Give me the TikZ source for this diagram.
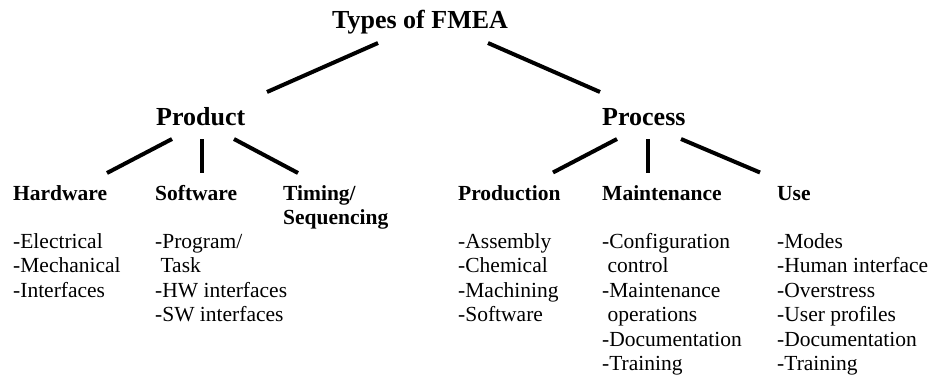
\documentclass[tikz,border=0pt]{standalone}
\usepackage{fontspec}
\setmainfont{Liberation Serif}
\usetikzlibrary{calc}
\begin{document}
\begin{tikzpicture}[x=1pt,y=-1pt,
  big/.style={font=\fontsize{26}{30}\selectfont\bfseries, inner sep=0pt, anchor=base west},
  head/.style={font=\fontsize{21.5}{24.4}\selectfont\bfseries, inner sep=0pt, anchor=base west},
  lst/.style={font=\fontsize{21.5}{24.4}\selectfont, inner sep=0pt, anchor=base west},
  conn/.style={line width=4pt, line cap=butt}]
\useasboundingbox (0,0) rectangle (935,381);
% level 1 and 2
\node[big] (title) at (332,28) {Types of FMEA};
\node[big] (prod) at (156,125) {Product};
\node[big] (proc) at (602,125) {Process};
% level 3 headings
\node[head] (hw) at (13,200.5) {Hardware};
\node[head] (sw) at (155,200.5) {Software};
\node[head] (tim) at (283,200.5) {\begin{tabular}[t]{@{}l@{}}Timing/\\Sequencing\end{tabular}};
\node[head] (pro) at (458,200.5) {Production};
\node[head] (mnt) at (602,200.5) {Maintenance};
\node[head] (use) at (777,200.5) {Use};
% lists
\node[lst] (hwl) at (13,248.5) {\begin{tabular}[t]{@{}l@{}}-Electrical\\-Mechanical\\-Interfaces\end{tabular}};
\node[lst] (swl) at (155,248.5) {\begin{tabular}[t]{@{}l@{}}-Program/\\\ Task\\-HW interfaces\\-SW interfaces\end{tabular}};
\node[lst] (prol) at (458,248.5) {\begin{tabular}[t]{@{}l@{}}-Assembly\\-Chemical\\-Machining\\-Software\end{tabular}};
\node[lst] (mntl) at (602,248.5) {\begin{tabular}[t]{@{}l@{}}-Configuration\\\ control\\-Maintenance\\\ operations\\-Documentation\\-Training\end{tabular}};
\node[lst] (usel) at (777,248.5) {\begin{tabular}[t]{@{}l@{}}-Modes\\-Human interface\\-Overstress\\-User profiles\\-Documentation\\-Training\end{tabular}};
% connectors
\draw[conn] ($(title.base west)+(46,15)$) -- ($(prod.base west)+(111,-33)$);
\draw[conn] ($(title.base west)+(156,15)$) -- ($(proc.base west)+(-2,-33)$);
\draw[conn] ($(prod.base west)+(16,14)$) -- ($(hw.base west)+(94,-27.5)$);
\draw[conn] ($(prod.base west)+(46,14)$) -- ($(sw.base west)+(47,-27.5)$);
\draw[conn] ($(prod.base west)+(78,14)$) -- ($(tim.base west)+(15,-27.5)$);
\draw[conn] ($(proc.base west)+(15,14)$) -- ($(pro.base west)+(95,-28)$);
\draw[conn] ($(proc.base west)+(46,14)$) -- ($(mnt.base west)+(46,-28)$);
\draw[conn] ($(proc.base west)+(79,14)$) -- ($(use.base west)+(-17,-28)$);
\end{tikzpicture}
\end{document}
